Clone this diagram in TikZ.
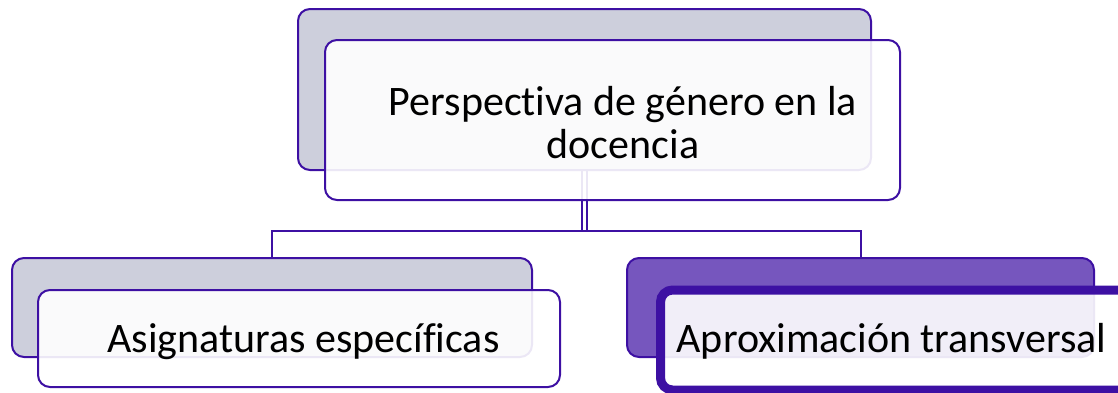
\documentclass[tikz,border=0pt]{standalone}
\usepackage{fontspec}
\setmainfont[Ligatures=NoCommon]{Carlito}
\usetikzlibrary{backgrounds}
\definecolor{bord}{HTML}{3D10A3}
\definecolor{backfill}{HTML}{CDCFDC}
\definecolor{accback}{HTML}{7656BE}
\tikzset{
  box/.style={draw=bord, line width=2pt, rounded corners=12pt, inner sep=0pt},
  backbox/.style={box, fill=backfill},
  frontbox/.style={box, fill=white, fill opacity=0.9, draw opacity=1},
  lbl/.style={inner sep=0pt, font=\fontsize{42}{43}\selectfont, align=center},
  conn/.style={draw=bord, line width=2pt},
}
\begin{document}
\begin{tikzpicture}[x=1pt,y=-1pt]
\useasboundingbox (0,0) rectangle (1118,392);
\node[backbox, minimum width=573pt, minimum height=161pt] (topback) at (584.5,89.5) {};
\node[frontbox, minimum width=575pt, minimum height=160pt] (topfront) at (612.5,120) {};
\node[lbl] (toptext) at (623,123) {Perspectiva de género en la\\docencia};
\node[backbox, minimum width=520pt, minimum height=99pt] (leftback) at (272,307.5) {};
\node[frontbox, minimum width=522pt, minimum height=97pt] (leftfront) at (299,338.5) {};
\node[lbl, anchor=base] (lefttext) at (303.5,352) {Asignaturas específicas};
\node[box, fill=accback, minimum width=467pt, minimum height=99pt] (rightback) at (860.5,307.5) {};
\node[frontbox, line width=9pt, minimum width=489pt, minimum height=100pt] (rightfront) at (905,340) {};
\node[lbl, anchor=base] (righttext) at (891.5,352) {Aproximación transversal};
\coordinate (j) at (584,231);
\begin{pgfonlayer}{background}
\draw[conn] ([xshift=-2.5pt]topback.south) -- ([xshift=-2.5pt]topback.south |- j);
\draw[conn] ([xshift=2.5pt]topback.south) -- ([xshift=2.5pt]topback.south |- j);
\draw[conn] (leftback.north) -- (leftback.north |- j) -- (rightback.north |- j) -- (rightback.north);
\end{pgfonlayer}
\end{tikzpicture}
\end{document}
